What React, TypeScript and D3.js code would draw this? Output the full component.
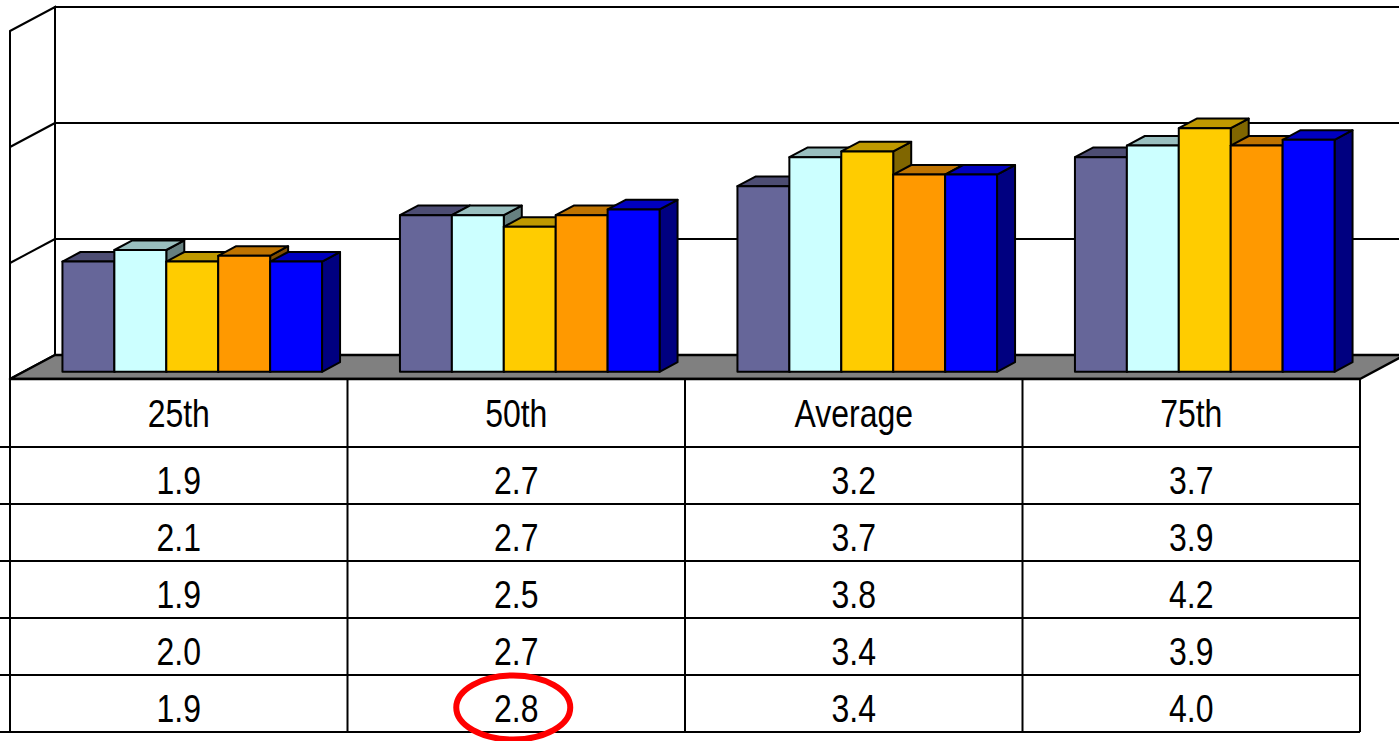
import React from "react";
import * as d3 from "d3";

// Categories shown along the floor and in the data table header
const categories = ["25th", "50th", "Average", "75th"];

// Series values, one array per series (one table row each)
const series1 = [1.9, 2.7, 3.2, 3.7];
const series2 = [2.1, 2.7, 3.7, 3.9];
const series3 = [1.9, 2.5, 3.8, 4.2];
const series4 = [2.0, 2.7, 3.4, 3.9];
const series5 = [1.9, 2.8, 3.4, 4.0];
const seriesValues = [series1, series2, series3, series4, series5];

// Front face colours of each series
const seriesColors = ["#666699", "#CCFFFF", "#FFCC00", "#FF9900", "#0000FF"];

// Value axis: 0..6, gridlines every 2
const valueDomain = [0, 6];
const valueTicks = [0, 2, 4, 6];

// Highlighted table cell (series index, category index)
const highlightRow = 4;
const highlightCol = 1;

const W = 1399;
const H = 741;

// Oblique projection of the 3D plot area
const DEPTH_DX = 45;
const DEPTH_DY = -24;
const BAR_F0 = 0.3; // bar front, as a fraction of the floor depth
const BAR_F1 = 0.7; // bar back

// Condensed table lettering: regular sans squeezed horizontally
const NARROW = 0.82;

const shade = (c: string, k: number) => {
  const r = d3.rgb(c);
  return d3.rgb(r.r * k, r.g * k, r.b * k).formatHex();
};

export default function App() {
  const xBand = d3.scaleBand<string>().domain(categories).range([10, 1360]).padding(0);
  const bw = xBand.bandwidth();
  const xSer = d3
    .scaleBand<number>()
    .domain(d3.range(seriesValues.length))
    .range([0, bw])
    .paddingInner(0)
    .paddingOuter(0.75);
  const barW = xSer.bandwidth();

  const y = d3.scaleLinear().domain(valueDomain).range([379, 31]);

  const P = (x: number, v: number, f: number): [number, number] => [
    x + f * DEPTH_DX,
    y(v) + f * DEPTH_DY,
  ];
  const poly = (pts: [number, number][]) => pts.map((p) => p.join(",")).join(" ");

  const xLeft = xBand.range()[0];
  const xRight = xBand.range()[1];

  // Table geometry
  const tableTop = y(0);
  const headerBottom = 447;
  const rowH = 57;
  const tableBottom = headerBottom + rowH * seriesValues.length;
  const colEdges = [...categories.map((c) => xBand(c) as number), xRight];
  const colCenter = (c: string) => (xBand(c) as number) + bw / 2;

  const font = "'Liberation Sans', Arial, sans-serif";
  const stroke = "#000";

  const cellText = (key: string, x: number, yy: number, label: string) => (
    <text
      key={key}
      transform={`translate(${x},${yy}) scale(${NARROW},1)`}
      textAnchor="middle"
      fontFamily={font}
      fontSize={39}
      fill="#000"
    >
      {label}
    </text>
  );

  const bars: React.ReactNode[] = [];
  categories.forEach((cat, ci) => {
    seriesValues.forEach((vals, si) => {
      const v = vals[ci];
      const x0 = (xBand(cat) as number) + (xSer(si) as number);
      const x1 = x0 + barW;
      const col = seriesColors[si];
      bars.push(
        <g key={`${ci}-${si}`}>
          <polygon
            points={poly([P(x1, 0, BAR_F0), P(x1, v, BAR_F0), P(x1, v, BAR_F1), P(x1, 0, BAR_F1)])}
            fill={shade(col, 0.5)}
            stroke={stroke}
            strokeWidth={2}
            strokeLinejoin="round"
          />
          <polygon
            points={poly([P(x0, v, BAR_F0), P(x1, v, BAR_F0), P(x1, v, BAR_F1), P(x0, v, BAR_F1)])}
            fill={shade(col, 0.75)}
            stroke={stroke}
            strokeWidth={2}
            strokeLinejoin="round"
          />
          <polygon
            points={poly([P(x0, 0, BAR_F0), P(x0, v, BAR_F0), P(x1, v, BAR_F0), P(x1, 0, BAR_F0)])}
            fill={col}
            stroke={stroke}
            strokeWidth={2}
            strokeLinejoin="round"
          />
        </g>
      );
    });
  });

  const hx = colCenter(categories[highlightCol]) - 3;
  const hy = headerBottom + rowH * highlightRow + rowH / 2 + 4;

  return (
    <svg
      width={W}
      height={H}
      viewBox={`0 0 ${W} ${H}`}
      style={{ position: "absolute", left: 0, top: 0, display: "block", background: "#fff" }}
    >
      {/* side wall */}
      <polygon
        points={poly([P(xLeft, valueDomain[1], 0), P(xLeft, valueDomain[1], 1), P(xLeft, 0, 1), P(xLeft, 0, 0)])}
        fill="#fff"
        stroke={stroke}
        strokeWidth={2}
      />
      {/* back wall */}
      <polygon
        points={poly([P(xLeft, valueDomain[1], 1), P(xRight, valueDomain[1], 1), P(xRight, 0, 1), P(xLeft, 0, 1)])}
        fill="#fff"
        stroke={stroke}
        strokeWidth={2}
      />
      {/* gridlines */}
      {valueTicks
        .filter((t) => t > valueDomain[0] && t < valueDomain[1])
        .map((t) => (
          <g key={`g${t}`}>
            <line
              x1={P(xLeft, t, 0)[0]}
              y1={P(xLeft, t, 0)[1]}
              x2={P(xLeft, t, 1)[0]}
              y2={P(xLeft, t, 1)[1]}
              stroke={stroke}
              strokeWidth={2}
            />
            <line
              x1={P(xLeft, t, 1)[0]}
              y1={P(xLeft, t, 1)[1]}
              x2={P(xRight, t, 1)[0]}
              y2={P(xRight, t, 1)[1]}
              stroke={stroke}
              strokeWidth={2}
            />
          </g>
        ))}
      {/* floor */}
      <polygon
        points={poly([P(xLeft, 0, 0), P(xLeft, 0, 1), P(xRight, 0, 1), P(xRight, 0, 0)])}
        fill="#808080"
        stroke={stroke}
        strokeWidth={2.5}
        strokeLinejoin="round"
      />
      {bars}

      {/* data table */}
      <g>
        <rect x={xLeft} y={tableTop} width={xRight - xLeft} height={tableBottom - tableTop} fill="#fff" />
        {colEdges.map((x, i) => (
          <line key={`v${i}`} x1={x} y1={tableTop} x2={x} y2={tableBottom} stroke={stroke} strokeWidth={2} />
        ))}
        <line x1={xLeft} y1={tableTop} x2={xRight} y2={tableTop} stroke={stroke} strokeWidth={2.5} />
        {d3.range(seriesValues.length + 1).map((i) => (
          <line
            key={`h${i}`}
            x1={0}
            y1={headerBottom + rowH * i}
            x2={xRight}
            y2={headerBottom + rowH * i}
            stroke={stroke}
            strokeWidth={2}
          />
        ))}
        {categories.map((c) => cellText(`hd${c}`, colCenter(c), 427, c))}
        {seriesValues.map((vals, si) =>
          vals.map((v, ci) =>
            cellText(
              `t${si}-${ci}`,
              colCenter(categories[ci]),
              headerBottom + rowH * si + 47,
              d3.format(".1f")(v)
            )
          )
        )}
      </g>

      {/* highlight ring */}
      <ellipse cx={hx} cy={hy} rx={57} ry={32} fill="none" stroke="#FF0000" strokeWidth={6} />
    </svg>
  );
}
